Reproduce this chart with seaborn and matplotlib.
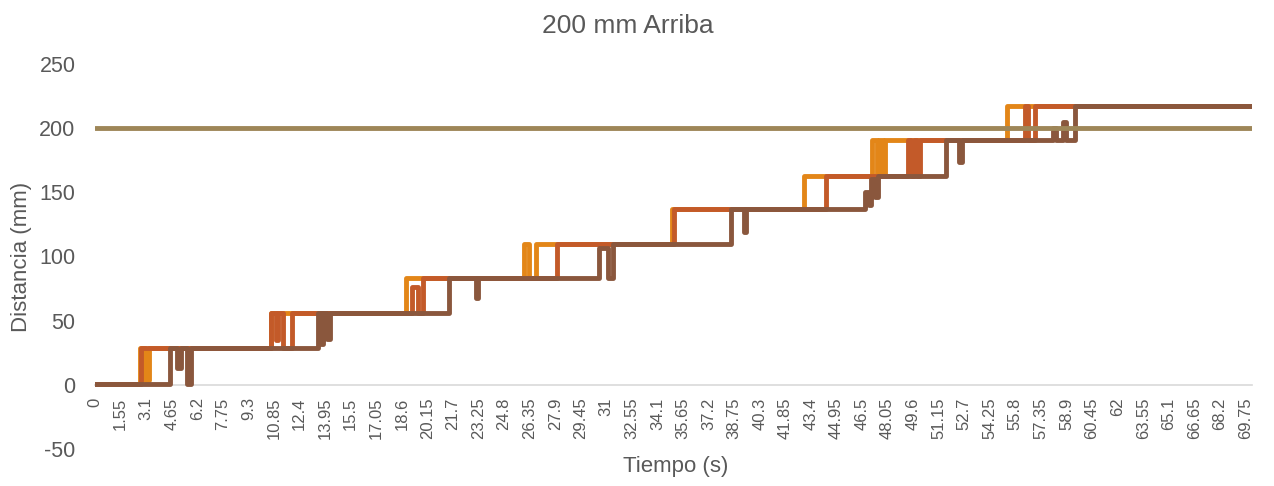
import matplotlib
matplotlib.use("Agg")
import matplotlib.pyplot as plt
import seaborn as sns
import pandas as pd

# ---- data (breakpoints of step series) ----
T_END = 70.15

orange_t = [0, 2.73, 3.05, 3.3, 10.7, 18.83, 26.0, 26.3, 26.75, 35.0, 43.0,
            47.1, 47.4, 47.55, 47.75, 47.9, 55.3, T_END]
orange_mm = [1, 29, 4, 29, 56, 83, 110, 83, 110, 137, 163,
             191, 163, 191, 163, 191, 217, 217]

rust_t = [0, 2.8, 10.65, 11.0, 11.1, 11.4, 11.95, 19.2, 19.6, 19.9, 28.0, 35.1,
          44.35, 49.3, 49.5, 49.65, 49.85, 50.05, 56.4, 56.55, 57.0, T_END]
rust_mm = [1, 29, 56, 35, 56, 29, 56, 76, 56, 83, 110, 137,
           163, 191, 163, 191, 163, 191, 217, 191, 217, 217]

brown_t = [0, 4.56, 4.95, 5.2, 5.55, 5.8, 13.5, 13.7, 13.85, 14.05, 14.25,
           21.45, 23.1, 23.25, 30.56, 31.1, 31.4, 38.58, 39.37, 39.5,
           46.7, 46.9, 47.05, 47.3, 47.45, 51.6, 52.4, 52.55,
           58.1, 58.25, 58.7, 58.85, 59.4, T_END]
brown_mm = [1, 29, 13, 29, 1, 29, 56, 32, 56, 36, 56,
            83, 68, 83, 107, 83, 110, 137, 119, 137,
            150, 140, 160, 146, 163, 191, 174, 191,
            200, 191, 205, 191, 217, 217]

ref_t = [0, T_END]
ref_mm = [200, 200]

x_tick_labels = ["0", "1.55", "3.1", "4.65", "6.2", "7.75", "9.3", "10.85", "12.4",
                 "13.95", "15.5", "17.05", "18.6", "20.15", "21.7", "23.25", "24.8",
                 "26.35", "27.9", "29.45", "31", "32.55", "34.1", "35.65", "37.2",
                 "38.75", "40.3", "41.85", "43.4", "44.95", "46.5", "48.05", "49.6",
                 "51.15", "52.7", "54.25", "55.8", "57.35", "58.9", "60.45", "62",
                 "63.55", "65.1", "66.65", "68.2", "69.75"]
y_ticks = [-50, 0, 50, 100, 150, 200, 250]

series_names = ["Serie 1", "Serie 2", "Serie 3", "Referencia"]
colors = ["#E38618", "#C35A29", "#8A573D", "#9E8658"]

frames = []
for name, t, v in zip(series_names,
                      [orange_t, rust_t, brown_t, ref_t],
                      [orange_mm, rust_mm, brown_mm, ref_mm]):
    frames.append(pd.DataFrame({"t": t, "mm": v, "serie": name}))
df = pd.concat(frames, ignore_index=True)

# ---- figure ----
sns.set_style("white")
plt.rcParams["font.family"] = ["Liberation Sans", "DejaVu Sans"]
grey = "#595959"

fig = plt.figure(figsize=(12.74, 4.86), dpi=100)
ax = fig.add_axes([95 / 1274, 1 - 449 / 486, (1252 - 95) / 1274, (449 - 64) / 486])

sns.lineplot(data=df, x="t", y="mm", hue="serie", hue_order=series_names,
             palette=colors, drawstyle="steps-post", estimator=None,
             linewidth=3.5, legend=False, ax=ax)

ax.set_xlim(0, T_END)
ax.set_ylim(-50, 250)
ax.tick_params(axis="both", length=0)
ax.tick_params(axis="y", pad=14, labelsize=15.5, labelcolor=grey)
ax.tick_params(axis="x", pad=9, labelsize=12, labelcolor=grey, labelrotation=90)
ax.set_yticks(y_ticks)
ax.set_yticklabels([str(v) for v in y_ticks])
ax.set_xticks([float(s) for s in x_tick_labels])
ax.set_xticklabels(x_tick_labels)
for lab in ax.get_xticklabels():
    lab.set_rotation(90)
    lab.set_verticalalignment("top")
    lab.set_horizontalalignment("center")

for s in ["top", "right", "left"]:
    ax.spines[s].set_visible(False)
ax.spines["bottom"].set_position(("data", 0))
ax.spines["bottom"].set_color("#D9D9D9")
ax.spines["bottom"].set_linewidth(1.2)
ax.spines["bottom"].set_zorder(0)
ax.grid(False)
ax.set_xlabel("")
ax.set_ylabel("")

fig.text(628 / 1274, 1 - 26 / 486, "200 mm Arriba", ha="center", va="center",
         fontsize=19, color=grey)
fig.text(676 / 1274, 1 - 466 / 486, "Tiempo (s)", ha="center", va="center",
         fontsize=16, color=grey)
fig.text(22 / 1274, 1 - 257 / 486, "Distancia (mm)", ha="center", va="center",
         rotation=90, fontsize=16, color=grey)

fig.savefig("out.png", dpi=100)
